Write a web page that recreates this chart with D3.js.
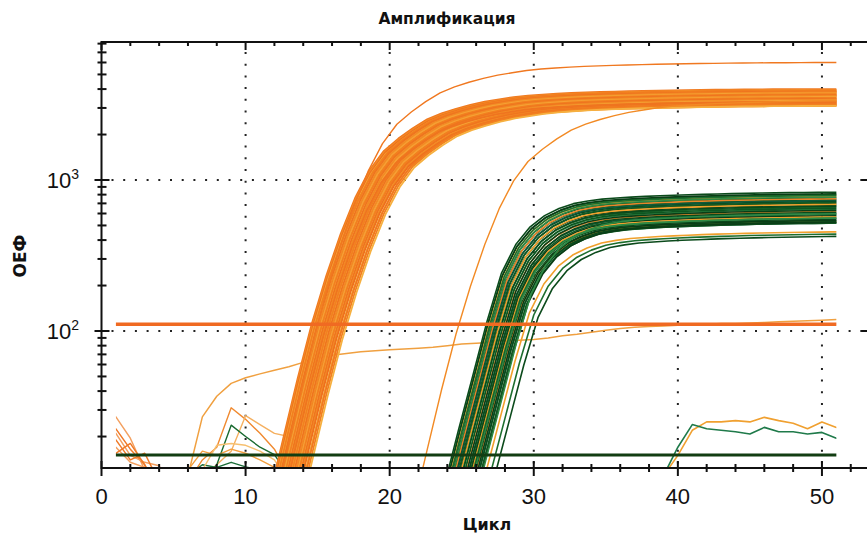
<!DOCTYPE html>
<html><head><meta charset="utf-8">
<script src="https://cdn.jsdelivr.net/npm/d3@7"></script>
<style>body{margin:0;background:#fff}</style>
</head><body><svg id="chart" width="867" height="535"></svg>
<script>
// ---------------- DATA ----------------
const xTicksMajor = [0, 10, 20, 30, 40, 50];
const yTicksMajor = [100, 1000];
const yTickLabels = [["10", "2"], ["10", "3"]];
const cycleRange = [1, 51];

// normalised amplification shapes (fraction of plateau), offsets from each curve's origin cycle
const orangeShapeStart = -16;
const orangeShape = [0.0002,0.0002,0.0002,0.0002,0.0002,0.0002,0.0002,0.0002,0.0002,0.0002,0.0002,
  0.0003,0.0007,0.0019,0.0048,0.012,0.028,0.058,0.11,0.19,0.29,0.39,0.47,0.55,0.63,0.69,0.74,0.785,
  0.825,0.855,0.885,0.905,0.92,0.932,0.942,0.95,0.957,0.963,0.968,0.973,0.977,0.981,0.984,0.987,
  0.99,0.992,0.994,0.996,0.997,0.998,0.999,1,1,1];
const greenShapeStart = -30;
const greenShape = [0.0005,0.0005,0.0005,0.0005,0.0005,0.0005,0.0005,0.0005,0.0005,0.0005,0.0005,0.0005,
  0.0005,0.0005,0.0005,0.0005,0.0005,0.0005,0.0005,0.0005,0.0005,0.0005,0.0005,
  0.0007,0.001,0.002,0.005,0.011,0.026,0.06,0.139,0.29,0.45,0.59,0.70,0.78,0.84,0.875,0.9,0.915,
  0.928,0.938,0.947,0.955,0.962,0.968,0.974,0.979,0.983,0.987,0.99,0.993,0.996,0.998,1,1];

// orange (FAM-like) sample curves: origin cycle and plateau
const orangeCt = [14.6,14.65,14.7,14.75,14.8,14.85,14.9,14.95,15.0,15.05,15.1,15.15,15.2,15.25,15.3,
  15.35,15.4,15.45,15.5,15.55,15.6,15.65,15.7,15.75,15.8,15.85,15.9,15.95,16.0,16.05,16.1,16.15,
  16.2,16.25,16.3,16.4,16.5,16.6,16.7,15.4, 15.5, 24.6];
const orangePlateau = [4000,3950,3900,3850,3800,3900,3750,3850,3700,3800,3650,3750,3600,3700,3550,
  3650,3500,3600,3450,3550,3400,3500,3350,3450,3300,3400,3250,3350,3200,3300,3150,3250,3100,3200,
  3150,3100,3200,3150,3100,3300, 6000, 3400];

// green curves: origin cycle and plateau
const greenCt = [26.75,26.8,26.85,26.9,26.95,27.0,27.05,27.1,27.15,27.2,27.25,27.3,27.35,27.4,27.45,
  27.5,27.55,27.6,27.65,27.7,27.75,27.8,27.85,27.9,27.95,28.0,28.05,28.1,28.15,28.2,28.25,28.3,
  28.35,28.4,28.5,28.6,28.7,29.0,29.3,28.8];
const greenPlateau = [830,800,810,780,790,760,770,740,750,720,730,700,710,680,690,660,670,640,650,
  620,630,600,610,590,580,570,560,550,560,540,530,540,520,530,520,525,455,440,425,600];

// slowly drifting curve
const driftStart = 5;
const driftValues = [6,11,27,37,45,49,52,55,58,62,66,69,71,73,74,75,76,77,78,80,82,83,84,86,87,88,
  90,93,95,98,101,104,106,107,108,109,110,111,112,112,113,114,115,116,117,118,119];

// early noise (from cycle 1)
const earlyNoise = [
  [27,19.5,12,7],
  [22.5,16.5,13,9],
  [21,15,13.5,12.8,8],
  [19,14,15.5,10,7],
  [17,13.5,12.5,8],
  [15.5,18,13,7]
];
// mid noise
const midNoiseStart = [5,6,6,5,5,6];
const midNoise = [
  [6,10,14,17,31,26,21,16.5,11,6],
  [8,11,13,16,27.5,24,21,20,14,8],
  [7,10,13,23.8,20,17,15.2,11,7],
  [7,12,16,15,16.5,15.5,14,12.5,9],
  [6,11,13,12.5,13.5,12.6,12,9],
  [8,12,17.5,18,17.5,16,14,10]
];
// late low curves (from cycle 39)
const lateStart = 39;
const lateOrange = [11,15,22,25,25,25.5,25,26.8,25.5,24.5,22.5,25,23];
const lateGreen = [11,17,24,22.5,22,21.5,20.8,23,21.5,21.5,20.8,21.3,19.5];

// thresholds
const thresholdOrange = 111;
const thresholdGreen = 15.1;

// ---------------- STYLE ----------------
const orangePalette = ['#f07820','#f28a24','#ee6f1e','#f5a033','#f07820','#f2801f','#f6b040','#ef741f'];
const greenPalette = ['#0b4a1b','#125a22','#0a3d16','#f0a02c','#1d6e2e','#0b4a1b','#2f8a45','#0e5520','#e8862a','#0a3d16','#0d5a3a'];
const midNoiseColors = ['#f08a30','#f5b060','#1a6a30','#f3a040','#1d6e3a','#f6c070'];

// ---------------- CHART ----------------
const svg = d3.select('#chart');
const x = d3.scaleLinear().domain([0, 53.3]).range([101.5, 869.5]);
const y = d3.scaleLog().domain([12.38, 8200]).range([468, 42]);
const yTop = y.range()[1], yBot = y.range()[0];

const defs = svg.append('defs');
defs.append('clipPath').attr('id','clip').append('rect')
  .attr('x', x(cycleRange[0])).attr('width', x(cycleRange[1]) - x(cycleRange[0]))
  .attr('y', yTop).attr('height', yBot - yTop);

// grid (dotted)
const grid = svg.append('g');
[10,20,30,40,50].forEach(v => {
  grid.append('line').attr('x1', x(v)).attr('x2', x(v)).attr('y1', yTop + 10).attr('y2', yBot)
    .attr('stroke', '#222').attr('stroke-width', 2).attr('stroke-dasharray', '2,9.7');
});
yTicksMajor.forEach(v => {
  grid.append('line').attr('x1', x(0) + 10).attr('x2', 867).attr('y1', y(v)).attr('y2', y(v))
    .attr('stroke', '#222').attr('stroke-width', 2).attr('stroke-dasharray', '2,9.7');
});

const line = d3.line().x(d => x(d[0])).y(d => y(Math.max(d[1], 0.01)));
const plot = svg.append('g').attr('clip-path', 'url(#clip)')
  .attr('fill','none').attr('stroke-linejoin','round').attr('stroke-linecap','round');

function shapeCurve(shape, start, ct, plateau) {
  return shape.map((f, i) => [ct + start + i, f * plateau]);
}
function seq(start, values) { return values.map((v, i) => [start + i, v]); }

// noise
earlyNoise.forEach((vals, i) => {
  plot.append('path').attr('d', line(seq(1, vals)))
    .attr('stroke', i % 2 ? '#f07a28' : '#f3a060').attr('stroke-width', 1.5);
});
midNoise.forEach((vals, i) => {
  plot.append('path').attr('d', line(seq(midNoiseStart[i], vals)))
    .attr('stroke', midNoiseColors[i]).attr('stroke-width', 1.4);
});
plot.append('path').attr('d', line(seq(lateStart, lateOrange))).attr('stroke', '#f0a030').attr('stroke-width', 1.6);
plot.append('path').attr('d', line(seq(lateStart, lateGreen))).attr('stroke', '#1f7a4a').attr('stroke-width', 1.6);
plot.append('path').attr('d', line(seq(driftStart, driftValues))).attr('stroke', '#f0a040').attr('stroke-width', 1.5);

// green curves
greenCt.forEach((ct, i) => {
  plot.append('path').attr('d', line(shapeCurve(greenShape, greenShapeStart, ct, greenPlateau[i])))
    .attr('stroke', greenPalette[i % greenPalette.length]).attr('stroke-width', 1.6);
});
// orange curves
orangeCt.forEach((ct, i) => {
  plot.append('path').attr('d', line(shapeCurve(orangeShape, orangeShapeStart, ct, orangePlateau[i])))
    .attr('stroke', orangePalette[i % orangePalette.length]).attr('stroke-width', i >= 40 ? 1.4 : 1.8);
});

// thresholds
plot.append('path').attr('d', line([[cycleRange[0], thresholdOrange],[cycleRange[1], thresholdOrange]]))
  .attr('stroke', '#f06a22').attr('stroke-width', 3.5);
plot.append('path').attr('d', line([[cycleRange[0], thresholdGreen],[cycleRange[1], thresholdGreen]]))
  .attr('stroke', '#123d12').attr('stroke-width', 3);

// axes
const ax = svg.append('g').attr('stroke', '#111').attr('stroke-width', 2);
ax.append('line').attr('x1', x(0)).attr('x2', 867).attr('y1', yBot).attr('y2', yBot);
ax.append('line').attr('x1', x(0)).attr('x2', 867).attr('y1', yTop).attr('y2', yTop);
ax.append('line').attr('x1', x(0)).attr('x2', x(0)).attr('y1', yTop - 1).attr('y2', yBot + 1);
ax.append('line').attr('x1', x(53.3)).attr('x2', x(53.3)).attr('y1', yTop).attr('y2', yBot);

const xMinor = d3.range(2, 54, 2).filter(v => v % 10 !== 0);
xMinor.forEach(v => {
  ax.append('line').attr('x1', x(v)).attr('x2', x(v)).attr('y1', yBot - 4).attr('y2', yBot + 4);
  ax.append('line').attr('x1', x(v)).attr('x2', x(v)).attr('y1', yTop).attr('y2', yTop + 4);
});
xTicksMajor.forEach(v => {
  ax.append('line').attr('x1', x(v)).attr('x2', x(v)).attr('y1', yBot - 7).attr('y2', yBot + 8);
  ax.append('line').attr('x1', x(v)).attr('x2', x(v)).attr('y1', yTop).attr('y2', yTop + 8);
});
const yMinor = [20,30,40,50,60,70,80,90,200,300,400,500,600,700,800,900,2000,3000,4000,5000,6000,7000,8000];
yMinor.forEach(v => {
  ax.append('line').attr('x1', x(0) - 4).attr('x2', x(0) + 5).attr('y1', y(v)).attr('y2', y(v));
});
yTicksMajor.forEach(v => {
  ax.append('line').attr('x1', x(0) - 7).attr('x2', x(0) + 8).attr('y1', y(v)).attr('y2', y(v));
  ax.append('line').attr('x1', x(53.3) - 8).attr('x2', x(53.3)).attr('y1', y(v)).attr('y2', y(v));
});

// labels
const lab = svg.append('g').attr('fill', '#111');
xTicksMajor.forEach(v => {
  lab.append('text').attr('x', x(v)).attr('y', 504).attr('text-anchor', 'middle')
    .attr('font-family', 'Liberation Sans, Arial, sans-serif').attr('font-size', 22).text(v);
});
yTicksMajor.forEach((v, i) => {
  const t = lab.append('text').attr('x', 79).attr('y', y(v) + 8).attr('text-anchor', 'end')
    .attr('font-family', 'Liberation Sans, Arial, sans-serif').attr('font-size', 22);
  t.append('tspan').text(yTickLabels[i][0]);
  t.append('tspan').attr('dy', -9).attr('font-size', 14).text(yTickLabels[i][1]);
});
lab.append('text').attr('x', 447).attr('y', 24).attr('text-anchor', 'middle')
  .attr('font-family', 'DejaVu Sans, sans-serif').attr('font-weight', 'bold').attr('font-size', 15.5)
  .text('Амплификация');
lab.append('text').attr('x', 487).attr('y', 530).attr('text-anchor', 'middle')
  .attr('font-family', 'DejaVu Sans, sans-serif').attr('font-weight', 'bold').attr('font-size', 16)
  .text('Цикл');
lab.append('text').attr('transform', 'translate(26,256) rotate(-90)').attr('text-anchor', 'middle')
  .attr('font-family', 'DejaVu Sans, sans-serif').attr('font-weight', 'bold').attr('font-size', 17)
  .text('ОЕФ');
</script></body></html>
